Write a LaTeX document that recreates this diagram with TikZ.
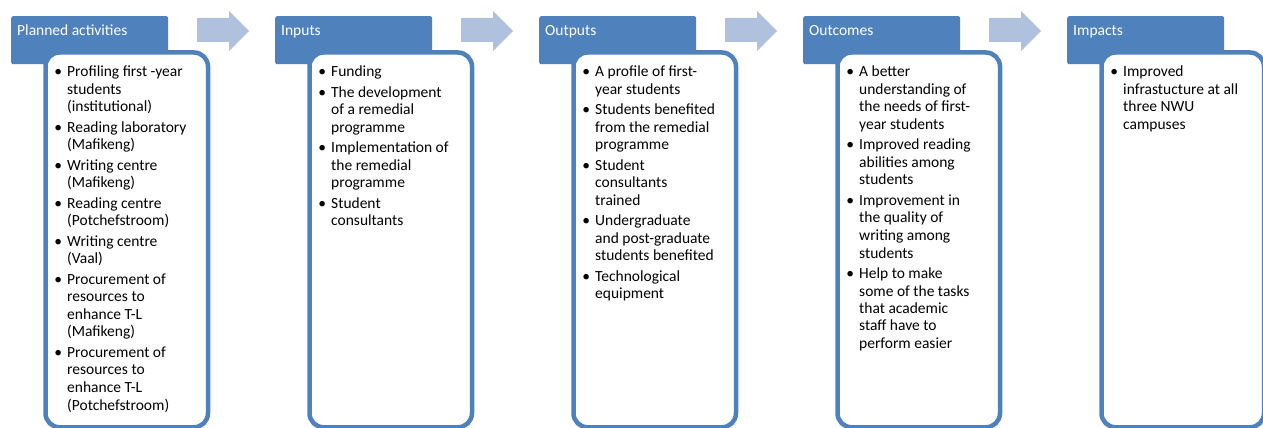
\documentclass[tikz,border=0pt]{standalone}
\usepackage{fontspec}
\setmainfont{Carlito}

\definecolor{hdrblue}{RGB}{79,129,189}
\definecolor{arrowblue}{RGB}{176,193,222}

\tikzset{
  x=1pt, y=-1pt,
  header/.style={fill=hdrblue, rounded corners=2pt, anchor=north west,
    inner sep=0pt, minimum width=157pt, minimum height=48pt},
  panel/.style={draw=hdrblue, fill=white, line width=4.5pt, rounded corners=14pt,
    anchor=north west, inner sep=0pt, minimum width=162.5pt, minimum height=374.75pt},
  flowarrow/.style={fill=arrowblue},
  htext/.style={anchor=base west, inner sep=0pt, text=white,
    font=\fontsize{15.5}{17.5}\selectfont},
  btext/.style={anchor=base west, inner sep=0pt,
    font=\fontsize{15.5}{17.5}\selectfont},
}

% bullet hung to the left of the item text
\newcommand\itm{\llap{\textbullet\hspace{5pt}}}

% #1 name, #2 left edge of the header, #3 title, #4 item lines
\newcommand\stagepanel[4]{%
  \node[header] (#1h) at (#2,16) {};
  \node[htext] (#1t) at (#2+6,36) {#3};
  \node[panel] (#1b) at (#2+32.25,50.25) {};
  \node[btext] (#1l) at (#2+56,77) {\begin{tabular}[t]{@{}l@{}}#4\end{tabular}};
}

% block arrow that follows the header starting at #1
\newcommand\stagearrow[1]{%
  \fill[flowarrow] (#1+186,18) -- (#1+218,18) -- (#1+218,11) -- (#1+238,31)
    -- (#1+218,51) -- (#1+218,42) -- (#1+186,42) -- cycle;
}

\begin{document}
\begin{tikzpicture}
\useasboundingbox (0,0) rectangle (1263,428);

\stagearrow{11}
\stagearrow{275}
\stagearrow{539}
\stagearrow{803}

\stagepanel{act}{11}{Planned activities}{%
  \itm Profiling first -year\\ students\\ (institutional)\\[3pt]
  \itm Reading laboratory\\ (Mafikeng)\\[3pt]
  \itm Writing centre\\ (Mafikeng)\\[3pt]
  \itm Reading centre\\ (Potchefstroom)\\[3pt]
  \itm Writing centre\\ (Vaal)\\[3pt]
  \itm Procurement of\\ resources to\\ enhance T-L\\ (Mafikeng)\\[3pt]
  \itm Procurement of\\ resources to\\ enhance T-L\\ (Potchefstroom)}

\stagepanel{inp}{275}{Inputs}{%
  \itm Funding\\[3pt]
  \itm The development\\ of a remedial\\ programme\\[3pt]
  \itm Implementation of\\ the remedial\\ programme\\[3pt]
  \itm Student\\ consultants}

\stagepanel{out}{539}{Outputs}{%
  \itm A profile of first-\\ year students\\[3pt]
  \itm Students benefited\\ from the remedial\\ programme\\[3pt]
  \itm Student\\ consultants\\ trained\\[3pt]
  \itm Undergraduate\\ and post-graduate\\ students benefited\\[3pt]
  \itm Technological\\ equipment}

\stagepanel{oc}{803}{Outcomes}{%
  \itm A better\\ understanding of\\ the needs of first-\\ year students\\[3pt]
  \itm Improved reading\\ abilities among\\ students\\[3pt]
  \itm Improvement in\\ the quality of\\ writing among\\ students\\[3pt]
  \itm Help to make\\ some of the tasks\\ that academic\\ staff have to\\ perform easier}

\stagepanel{imp}{1067}{Impacts}{%
  \itm Improved\\ infrastucture at all\\ three NWU\\ campuses}

\end{tikzpicture}
\end{document}
